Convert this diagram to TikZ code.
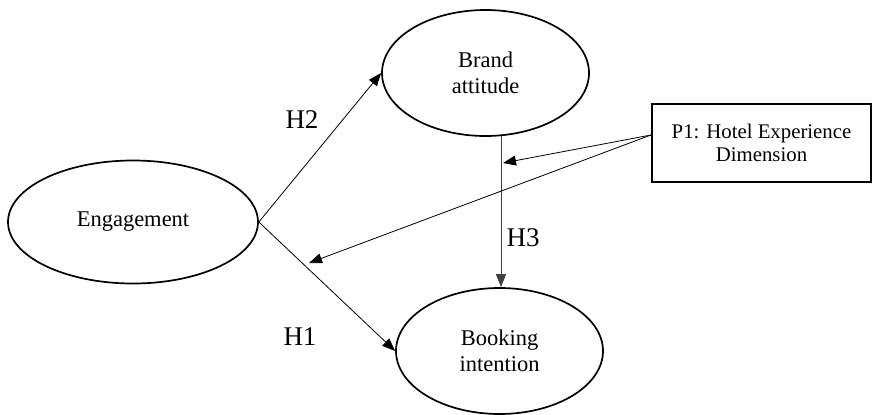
\documentclass[tikz,border=0pt]{standalone}
\usepackage{fontspec}
\setmainfont{Liberation Serif}
\usetikzlibrary{shapes.geometric,arrows.meta}
\begin{document}
\begin{tikzpicture}[x=1pt,y=-1pt,
  construct/.style={draw,ellipse,line width=1.7pt,inner sep=0pt,align=center,
    font=\fontsize{22.5}{26.5}\selectfont},
  propbox/.style={draw,rectangle,line width=1.9pt,inner sep=0pt,align=center,
    minimum width=219pt,minimum height=78pt,font=\fontsize{20.8}{22.4}\selectfont},
  hyp/.style={font=\fontsize{27}{30}\selectfont},
  link/.style={line width=0.8pt,-{Triangle[length=13pt,width=10pt]}}]
\useasboundingbox (0,0) rectangle (873,415);

% constructs
\node[construct,minimum width=250pt,minimum height=123pt] (eng) at (133,222) {Engagement};
\node[construct,minimum width=207pt,minimum height=126pt] (brand) at (485.5,73) {Brand\\attitude};
\node[construct,minimum width=207pt,minimum height=126pt] (book) at (499.5,351) {Booking\\intention};
\node[propbox] (p1) at (761.5,143) {P1: Hotel Experience\\Dimension};

% hypothesis paths
\draw[link] (eng.east) -- (brand.west);
\draw[link] (eng.east) -- (book.west);
\coordinate (h3top) at (501,136);
\draw[link,draw=black!75] (h3top) -- (book.north -| h3top);

% moderating effects of P1
\coordinate (p1out) at (651,135);
\coordinate (modh3) at (503,163);
\coordinate (modh1) at (309,263);
\draw[link] (p1out) -- (modh3);
\draw[link] (p1out) -- (modh1);

% labels
\node[hyp] (lh2) at (302,120) {H2};
\node[hyp] (lh1) at (300,337) {H1};
\node[hyp] (lh3) at (523,238) {H3};
\end{tikzpicture}
\end{document}
